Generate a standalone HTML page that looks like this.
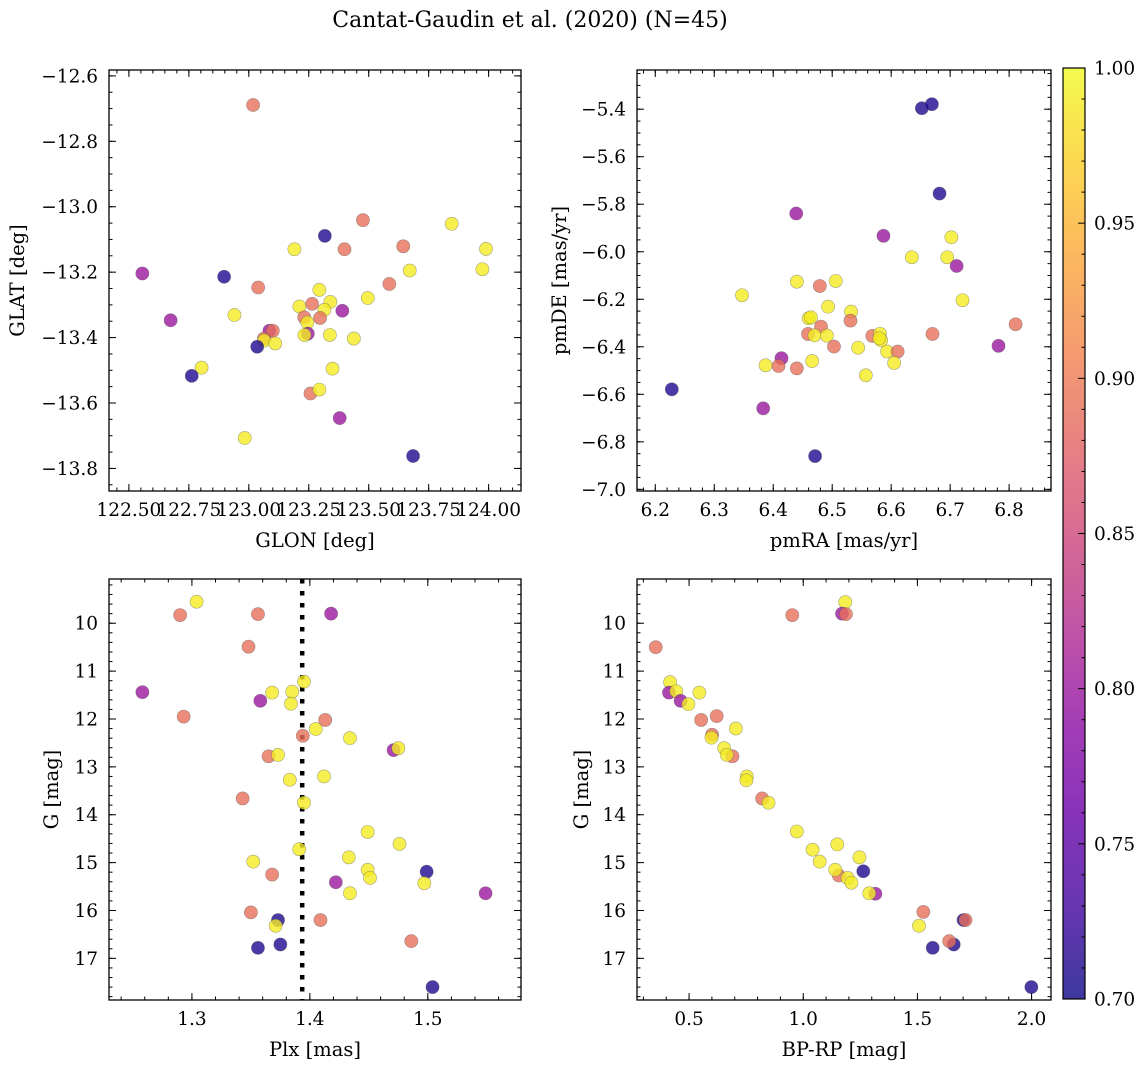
<!DOCTYPE html>
<html><head><meta charset="utf-8"><title>Cantat-Gaudin et al. (2020)</title>
<style>
html,body{margin:0;padding:0;background:#fff;}
svg{display:block;font-family:"DejaVu Serif","Liberation Serif",serif;}
</style></head>
<body>
<svg id="fig" width="1148" height="1067" viewBox="0 0 1148 1067" xmlns="http://www.w3.org/2000/svg">
<defs>
<linearGradient id="plasma" x1="0" y1="1" x2="0" y2="0"></linearGradient>
</defs>
<text x="530" y="27" font-size="22" text-anchor="middle">Cantat-Gaudin et al. (2020) (N=45)</text>
</svg>
<script>
// ---- data: top-left (GLON vs GLAT)
const glon=[123.018,123.476,123.846,123.317,123.190,123.399,123.644,123.989,123.974,123.671,122.556,122.897,123.039,123.586,123.294,123.496,123.211,123.264,123.340,123.315,123.390,123.231,123.297,123.244,122.674,122.940,123.086,123.100,123.063,123.064,123.110,123.035,123.246,123.232,123.338,123.438,122.803,122.762,123.349,123.257,123.294,123.379,122.983,123.685];
const glat=[-12.689,-13.041,-13.052,-13.089,-13.130,-13.130,-13.121,-13.129,-13.191,-13.195,-13.204,-13.214,-13.247,-13.236,-13.254,-13.279,-13.305,-13.297,-13.291,-13.315,-13.318,-13.338,-13.340,-13.354,-13.347,-13.331,-13.379,-13.379,-13.403,-13.409,-13.418,-13.428,-13.388,-13.392,-13.392,-13.403,-13.492,-13.517,-13.495,-13.571,-13.559,-13.646,-13.707,-13.762];
const probTL=[0.89,0.89,0.99,0.71,0.99,0.89,0.89,0.99,0.99,0.99,0.80,0.71,0.89,0.89,0.99,0.99,0.99,0.89,0.99,0.99,0.80,0.89,0.89,0.99,0.80,0.99,0.80,0.89,0.89,0.99,0.99,0.71,0.80,0.99,0.99,0.99,0.99,0.71,0.99,0.89,0.99,0.80,0.99,0.71];
// ---- data: top-right (pmRA vs pmDE)
const pmra=[6.652,6.669,6.682,6.439,6.587,6.702,6.635,6.695,6.711,6.440,6.479,6.506,6.347,6.721,6.493,6.532,6.531,6.460,6.464,6.481,6.459,6.470,6.491,6.568,6.581,6.583,6.670,6.811,6.503,6.544,6.593,6.611,6.782,6.414,6.387,6.409,6.440,6.466,6.605,6.557,6.228,6.383,6.471,6.580];
const pmde=[-5.396,-5.379,-5.755,-5.839,-5.933,-5.939,-6.023,-6.023,-6.060,-6.126,-6.144,-6.123,-6.183,-6.204,-6.231,-6.252,-6.290,-6.280,-6.276,-6.315,-6.346,-6.352,-6.353,-6.354,-6.345,-6.373,-6.346,-6.305,-6.399,-6.404,-6.420,-6.420,-6.396,-6.448,-6.478,-6.481,-6.491,-6.460,-6.468,-6.520,-6.579,-6.659,-6.860,-6.364];
const probTR=[0.71,0.71,0.71,0.80,0.80,0.99,0.99,0.99,0.80,0.99,0.89,0.99,0.99,0.99,0.99,0.99,0.89,0.99,0.99,0.89,0.89,0.99,0.99,0.89,0.99,0.99,0.89,0.89,0.89,0.99,0.99,0.89,0.80,0.80,0.99,0.89,0.89,0.99,0.99,0.99,0.71,0.80,0.71,0.99];
// ---- data: bottom-left (Plx vs G)
const plx=[1.304,1.290,1.356,1.418,1.348,1.395,1.258,1.368,1.385,1.358,1.384,1.293,1.413,1.405,1.394,1.434,1.471,1.475,1.365,1.373,1.383,1.412,1.343,1.395,1.449,1.476,1.391,1.433,1.352,1.449,1.499,1.368,1.451,1.422,1.497,1.434,1.549,1.350,1.373,1.409,1.371,1.356,1.375,1.486,1.504];
const gBL=[9.55,9.83,9.81,9.80,10.49,11.22,11.44,11.45,11.43,11.62,11.68,11.95,12.02,12.21,12.35,12.40,12.65,12.61,12.78,12.75,13.27,13.20,13.66,13.75,14.36,14.61,14.72,14.89,14.98,15.15,15.19,15.25,15.32,15.41,15.43,15.64,15.64,16.04,16.20,16.20,16.32,16.78,16.71,16.64,17.60];
const probBL=[0.99,0.89,0.89,0.80,0.89,0.99,0.80,0.99,0.99,0.80,0.99,0.89,0.89,0.99,0.89,0.99,0.80,0.99,0.89,0.99,0.99,0.99,0.89,0.99,0.99,0.99,0.99,0.99,0.99,0.99,0.71,0.89,0.99,0.80,0.99,0.99,0.80,0.89,0.71,0.89,0.99,0.71,0.71,0.89,0.71];
const plxMean=[1.3935];
// ---- data: bottom-right (BP-RP vs G)
const bprp=[0.354,0.952,1.184,1.170,1.187,0.417,0.412,0.444,0.463,0.497,0.545,0.553,0.621,0.705,0.601,0.598,0.654,0.690,0.665,0.753,0.751,0.820,0.848,0.972,1.041,1.149,1.072,1.246,1.156,1.140,1.263,1.194,1.211,1.316,1.289,1.526,1.507,1.702,1.711,1.567,1.659,1.639,1.999];
const gBR=[10.50,9.83,9.56,9.80,9.81,11.23,11.45,11.42,11.62,11.69,11.45,12.02,11.94,12.20,12.33,12.39,12.61,12.78,12.75,13.20,13.28,13.66,13.75,14.35,14.73,14.62,14.98,14.89,15.27,15.15,15.18,15.32,15.42,15.65,15.64,16.03,16.32,16.20,16.20,16.78,16.71,16.64,17.60];
const probBR=[0.89,0.89,0.99,0.80,0.89,0.99,0.80,0.99,0.80,0.99,0.99,0.89,0.89,0.99,0.89,0.99,0.99,0.89,0.99,0.99,0.99,0.89,0.99,0.99,0.99,0.99,0.99,0.99,0.89,0.99,0.71,0.99,0.99,0.80,0.99,0.89,0.99,0.71,0.89,0.71,0.71,0.89,0.71];
// ---- tick labels
const ticksTLx=[122.50,122.75,123.00,123.25,123.50,123.75,124.00];
const ticksTLy=[-12.6,-12.8,-13.0,-13.2,-13.4,-13.6,-13.8];
const ticksTRx=[6.2,6.3,6.4,6.5,6.6,6.7,6.8];
const ticksTRy=[-5.4,-5.6,-5.8,-6.0,-6.2,-6.4,-6.6,-6.8,-7.0];
const ticksBLx=[1.3,1.4,1.5];
const ticksGy=[10,11,12,13,14,15,16,17];
const ticksBRx=[0.5,1.0,1.5,2.0];
const ticksCbar=[0.70,0.75,0.80,0.85,0.90,0.95,1.00];

const NS="http://www.w3.org/2000/svg";
const svg=document.getElementById('fig');
const plasmaStops=[[0,'#0d0887'],[0.1,'#41049d'],[0.2,'#6a00a8'],[0.3,'#8f0da4'],[0.4,'#b12a90'],[0.5,'#cc4778'],[0.6,'#e16462'],[0.7,'#f2844b'],[0.8,'#fca636'],[0.9,'#fcce25'],[1,'#f0f921']];
function hex(h){return [parseInt(h.slice(1,3),16),parseInt(h.slice(3,5),16),parseInt(h.slice(5,7),16)];}
function plasma(t){t=Math.max(0,Math.min(1,t));for(let i=1;i<plasmaStops.length;i++){if(t<=plasmaStops[i][0]){const a=plasmaStops[i-1],b=plasmaStops[i];const f=(t-a[0])/(b[0]-a[0]);const ca=hex(a[1]),cb=hex(b[1]);return 'rgb('+ca.map((v,k)=>Math.round(v+(cb[k]-v)*f)).join(',')+')';}}return plasmaStops[10][1];}
const vmin=0.7,vmax=1.0;
const FS=18.5, FT=19.5;
function mk(tag,attrs,parent){const e=document.createElementNS(NS,tag);for(const k in attrs)e.setAttribute(k,attrs[k]);(parent||svg).appendChild(e);return e;}

function panel(cfg){
  const g=mk('g',{});
  
  
  const sx=v=>cfg.x0+(v-cfg.xd[0])/(cfg.xd[1]-cfg.xd[0])*(cfg.x1-cfg.x0);
  const sy=cfg.inv? (v=>cfg.y0+(v-cfg.yd[0])/(cfg.yd[1]-cfg.yd[0])*(cfg.y1-cfg.y0))
                  : (v=>cfg.y1-(v-cfg.yd[0])/(cfg.yd[1]-cfg.yd[0])*(cfg.y1-cfg.y0));
  if(cfg.vline){
    const l=mk('line',{x1:sx(cfg.vline[0]),x2:sx(cfg.vline[0]),y1:cfg.y0,y2:cfg.y1,stroke:'#000','stroke-width':4.5,'stroke-dasharray':'4.5 7.5'},g);
    
    
  }
  for(let i=0;i<cfg.xs.length;i++){
    const c=mk('circle',{cx:sx(cfg.xs[i]),cy:sy(cfg.ys[i]),r:6.6,fill:plasma((cfg.ps[i]-vmin)/(vmax-vmin)),'fill-opacity':0.8,stroke:'#555','stroke-opacity':0.5,'stroke-width':0.6},g);
    
    
  }
  const fr=mk('rect',{x:cfg.x0,y:cfg.y0,width:cfg.x1-cfg.x0,height:cfg.y1-cfg.y0,fill:'none',stroke:'#000','stroke-width':1.3},g);
  
  
  const tk=mk('g',{stroke:'#000','stroke-width':1},g);
  const xm0=Math.ceil((cfg.xd[0]-1e-9)/cfg.xminor), xm1=Math.floor((cfg.xd[1]+1e-9)/cfg.xminor);
  for(let k=xm0;k<=xm1;k++){const X=sx(k*cfg.xminor);mk('line',{x1:X,x2:X,y1:cfg.y1,y2:cfg.y1-3.5},tk);mk('line',{x1:X,x2:X,y1:cfg.y0,y2:cfg.y0+3.5},tk);}
  const ym0=Math.ceil((cfg.yd[0]-1e-9)/cfg.yminor), ym1=Math.floor((cfg.yd[1]+1e-9)/cfg.yminor);
  for(let k=ym0;k<=ym1;k++){const Y=sy(k*cfg.yminor);mk('line',{x1:cfg.x0,x2:cfg.x0+3.5,y1:Y,y2:Y},tk);mk('line',{x1:cfg.x1,x2:cfg.x1-3.5,y1:Y,y2:Y},tk);}
  cfg.xt.forEach(v=>{const X=sx(v);mk('line',{x1:X,x2:X,y1:cfg.y1,y2:cfg.y1-7},tk);mk('line',{x1:X,x2:X,y1:cfg.y0,y2:cfg.y0+7},tk);
    const t=mk('text',{x:X,y:cfg.y1+25,'font-size':FS,'text-anchor':'middle'},g);t.textContent=v.toFixed(cfg.xdec);
    
    });
  cfg.yt.forEach(v=>{const Y=sy(v);mk('line',{x1:cfg.x0,x2:cfg.x0+7,y1:Y,y2:Y},tk);mk('line',{x1:cfg.x1,x2:cfg.x1-7,y1:Y,y2:Y},tk);
    const t=mk('text',{x:cfg.x0-11,y:Y+6.5,'font-size':FS,'text-anchor':'end'},g);t.textContent=(v<0?'\u2212':'')+Math.abs(v).toFixed(cfg.ydec);
    
    });
  const xl=mk('text',{x:(cfg.x0+cfg.x1)/2,y:cfg.y1+56,'font-size':FT,'text-anchor':'middle'},g);xl.textContent=cfg.xlabel;
  
  
  const yx=cfg.ylx, yy=(cfg.y0+cfg.y1)/2;
  const yl=mk('text',{x:yx,y:yy,'font-size':FT,'text-anchor':'middle',transform:'rotate(-90 '+yx+' '+yy+')'},g);yl.textContent=cfg.ylabel;
  
  
}

panel({name:'glon-glat-panel',x0:109,x1:521,y0:70,y1:491,xd:[122.417,124.135],yd:[-13.869,-12.582],xs:glon,ys:glat,ps:probTL,xt:ticksTLx,yt:ticksTLy,xminor:0.05,yminor:0.05,xdec:2,ydec:1,xlabel:'GLON [deg]',ylabel:'GLAT [deg]',ylx:24});
panel({name:'pm-panel',x0:637,x1:1051,y0:70,y1:491,xd:[6.169,6.871],yd:[-7.007,-5.235],xs:pmra,ys:pmde,ps:probTR,xt:ticksTRx,yt:ticksTRy,xminor:0.02,yminor:0.05,xdec:1,ydec:1,xlabel:'pmRA [mas/yr]',ylabel:'pmDE [mas/yr]',ylx:566});
panel({name:'plx-g-panel',x0:109,x1:521,y0:579,y1:1000,xd:[1.2297,1.579],yd:[9.076,17.87],inv:true,xs:plx,ys:gBL,ps:probBL,xt:ticksBLx,yt:ticksGy,xminor:0.02,yminor:0.2,xdec:1,ydec:0,xlabel:'Plx [mas]',ylabel:'G [mag]',ylx:58,vline:plxMean});
panel({name:'cmd-panel',x0:637,x1:1051,y0:579,y1:1000,xd:[0.272,2.085],yd:[9.076,17.87],inv:true,xs:bprp,ys:gBR,ps:probBR,xt:ticksBRx,yt:ticksGy,xminor:0.1,yminor:0.2,xdec:1,ydec:0,xlabel:'BP-RP [mag]',ylabel:'G [mag]',ylx:588});

// colorbar
const grad=document.getElementById('plasma');
for(let i=0;i<=30;i++){const t=i/30;mk('stop',{offset:t,'stop-color':plasma(t)},grad);}
const cb=mk('g',{});


const cx0=1063,cx1=1085,cy0=68,cy1=999;
mk('rect',{x:cx0,y:cy0,width:cx1-cx0,height:cy1-cy0,fill:'url(#plasma)','fill-opacity':0.8},cb);
mk('rect',{x:cx0,y:cy0,width:cx1-cx0,height:cy1-cy0,fill:'none',stroke:'#000','stroke-width':1.2},cb);
const cby=v=>cy1-(v-vmin)/(vmax-vmin)*(cy1-cy0);
for(let k=70;k<=100;k++){const Y=cby(k/100);const major=k%5===0;mk('line',{x1:cx1,x2:cx1-(major?7:3.5),y1:Y,y2:Y,stroke:'#000','stroke-width':1},cb);}
ticksCbar.forEach(v=>{const t=mk('text',{x:1094,y:cby(v)+6.5,'font-size':FS},cb);t.textContent=v.toFixed(2);
  
  });
</script>
</body></html>
